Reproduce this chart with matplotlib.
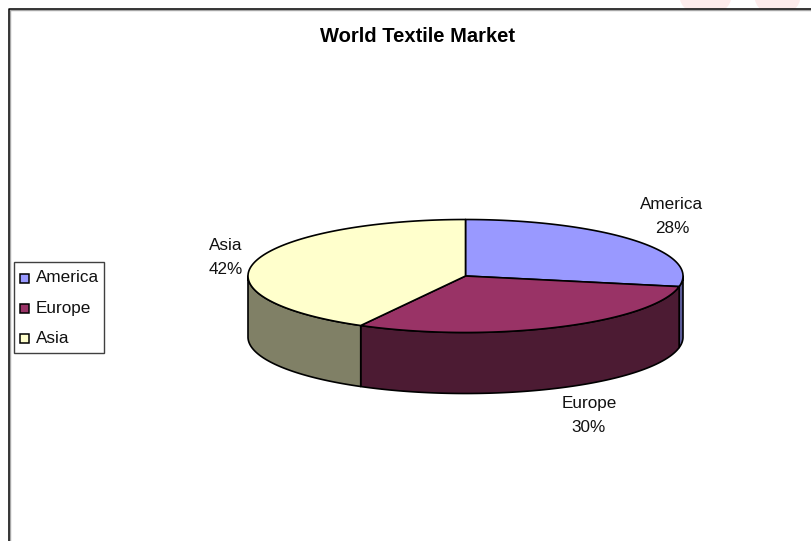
import numpy as np
import matplotlib
matplotlib.use('Agg')
import matplotlib.pyplot as plt
from matplotlib.patches import Polygon, Rectangle, Ellipse

plt.rcParams['font.family'] = ['Liberation Sans', 'DejaVu Sans']

# market shares, clockwise from 12 o'clock
regions = ['America', 'Europe', 'Asia']
shares = [28, 30, 42]
top_colors = ['#9999ff', '#993366', '#ffffcc']
side_colors = ['#5c5c99', '#4c1b33', '#808066']

# pie geometry in pixels
cx, cy = 465.5, 276
rx, ry = 217.5, 56.5
depth = 61
edge = '#000000'


def rim(a0, a1, drop=0):
    # points on the ellipse between two clockwise angles (degrees from top)
    a = np.radians(np.linspace(a0, a1, max(int(abs(a1 - a0)) * 2, 2)))
    return np.column_stack((cx + rx * np.sin(a), cy - ry * np.cos(a) + drop))


fig = plt.figure(figsize=(8.11, 5.41), dpi=100)
ax = fig.add_axes([0, 0, 1, 1])
ax.set_xlim(0, 811)
ax.set_ylim(541, 0)
ax.axis('off')

# faint shapes above the frame
for x0, w in [(705.5, 52), (777.5, 46)]:
    ax.add_patch(Ellipse((x0, -4), w, 40, fc='#fdecec', ec='none', zorder=0))
ax.add_patch(Rectangle((0, 9), 811, 40, fc='white', ec='none', zorder=0.5))

# chart frame: black line with a grey inner shadow
ax.plot([9.5, 9.5, 811], [541, 9.5, 9.5], color='#a6a6a6', lw=1, zorder=1)
ax.plot([8.5, 8.5, 811], [541, 8.5, 8.5], color='black', lw=1.1, zorder=1)

ends = np.cumsum(shares) / sum(shares) * 360
starts = np.concatenate(([0], ends[:-1]))

# side walls, only where the rim faces the viewer (90..270 degrees)
for s, e, c in zip(starts, ends, side_colors):
    lo, hi = max(s, 90), min(e, 270)
    if lo < hi:
        upper = rim(lo, hi)
        lower = rim(hi, lo, depth)
        ax.add_patch(Polygon(np.vstack((upper, lower)), closed=True, fc=c,
                             ec=edge, lw=1.2, joinstyle='round', zorder=2))

# top faces
for s, e, c in zip(starts, ends, top_colors):
    pts = np.vstack(([[cx, cy]], rim(s, e)))
    ax.add_patch(Polygon(pts, closed=True, fc=c, ec=edge, lw=1.2,
                         joinstyle='round', zorder=3))

# slice labels
label_pos = [(672, 216.5), (589, 415.5), (226, 257.5)]
for name, val, (x, y) in zip(regions, shares, label_pos):
    ax.text(x, y, f'{name}\n{val}%', ha='center', va='center', fontsize=12.3,
            color='#111111', linespacing=1.78, zorder=5)

ax.text(417.5, 36, 'World Textile Market', ha='center', va='center',
        fontsize=14.5, fontweight='bold', color='black', zorder=5)

# legend box
ax.add_patch(Rectangle((13.5, 261.5), 90, 91, fc='white', ec='#404040', lw=1, zorder=4))
for i, (name, c) in enumerate(zip(regions, top_colors)):
    y = 278 + i * 30.3
    ax.add_patch(Rectangle((20, y - 4.5), 9, 9, fc=c, ec='black', lw=1.1, zorder=5))
    ax.text(36, y, name, ha='left', va='center', fontsize=12.3, color='#111111', zorder=5)

fig.savefig('out.png', dpi=100)
